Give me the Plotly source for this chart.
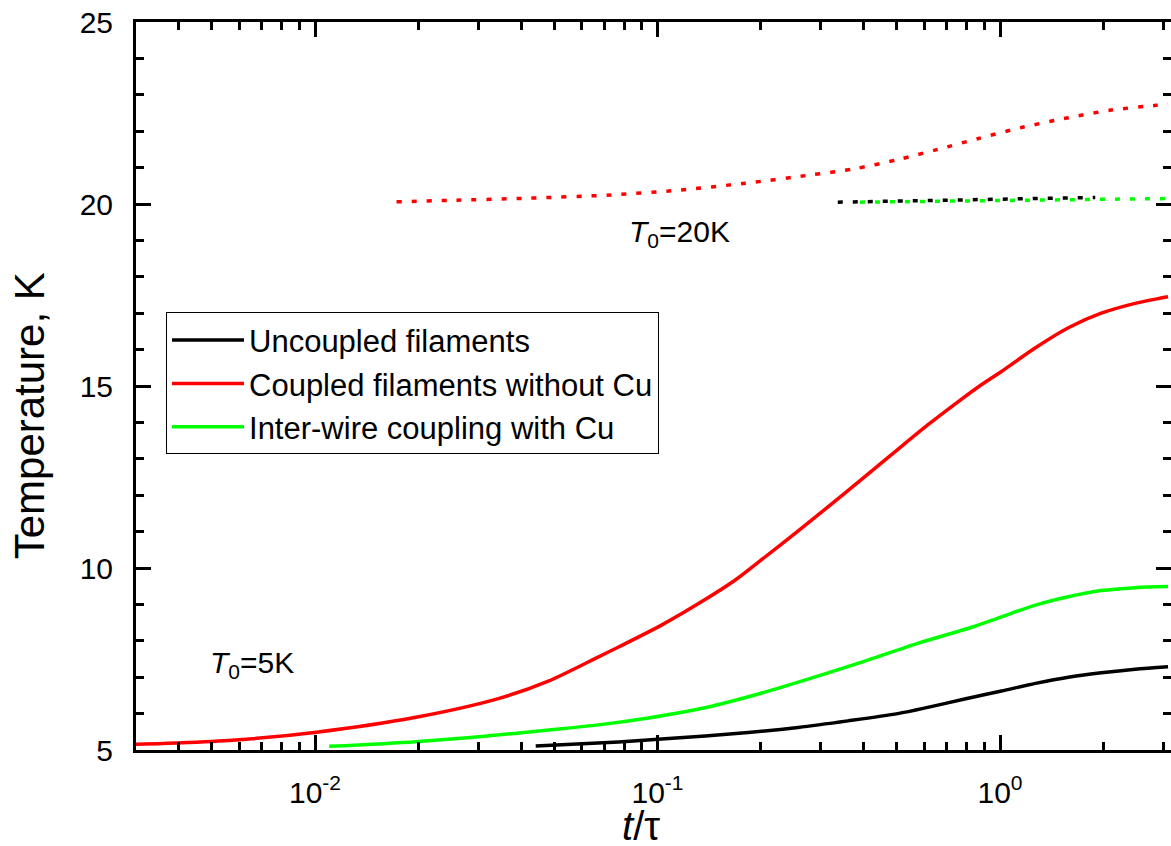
import plotly.graph_objects as go

# ---- data (t/tau, Temperature K) ----
red_x = [0.0030, 0.0036, 0.0056, 0.0101, 0.0197, 0.0345, 0.0482, 0.0673, 0.0770, 0.1027,
         0.1343, 0.1687, 0.2008, 0.2522, 0.3146, 0.3926, 0.4931, 0.6151, 0.7674, 0.8659,
         1.010, 1.269, 1.583, 1.975, 2.480, 2.893, 3.094]
red_T = [5.16, 5.18, 5.26, 5.49, 5.90, 6.42, 6.90, 7.56, 7.83, 8.43,
         9.07, 9.67, 10.22, 10.95, 11.68, 12.42, 13.19, 13.93, 14.62, 14.98,
         15.40, 16.05, 16.60, 17.00, 17.27, 17.40, 17.45]

green_x = [0.0110, 0.0197, 0.0307, 0.0482, 0.0673, 0.0941, 0.1343, 0.2008, 0.3083, 0.4114,
           0.5752, 0.8317, 1.010, 1.269, 1.583, 1.975, 2.480, 3.094]
green_T = [5.10, 5.23, 5.37, 5.55, 5.69, 5.88, 6.14, 6.56, 7.09, 7.47,
           7.93, 8.38, 8.66, 8.98, 9.21, 9.38, 9.46, 9.49]

black_x = [0.0441, 0.0770, 0.1027, 0.1840, 0.2573, 0.3598, 0.5030, 0.6151, 0.7884, 1.010,
           1.269, 1.583, 1.975, 2.480, 3.094]
black_T = [5.11, 5.22, 5.30, 5.48, 5.62, 5.80, 6.00, 6.17, 6.40, 6.62,
           6.83, 7.00, 7.12, 7.22, 7.29]

red20_x = [0.0173, 0.0246, 0.0421, 0.0734, 0.1151, 0.1804, 0.2808, 0.3771, 0.5030, 0.6577,
           0.8659, 1.155, 1.583, 2.112, 2.855, 3.094]
red20_T = [20.06, 20.10, 20.16, 20.25, 20.38, 20.57, 20.80, 20.97, 21.22, 21.50,
           21.80, 22.10, 22.37, 22.58, 22.71, 22.74]

green20_x = [0.390, 0.704, 1.375, 3.094]
green20_T = [20.05, 20.08, 20.12, 20.15]

black20_x = [0.336, 0.704, 1.375, 1.897]
black20_T = [20.05, 20.10, 20.15, 20.18]

x_tickvals = [0.01, 0.1, 1]
x_ticktext = ["10<sup>-2</sup>", "10<sup>-1</sup>", "10<sup>0</sup>"]
x_minor = [3e-3, 4e-3, 5e-3, 6e-3, 7e-3, 8e-3, 9e-3,
           2e-2, 3e-2, 4e-2, 5e-2, 6e-2, 7e-2, 8e-2, 9e-2,
           0.2, 0.3, 0.4, 0.5, 0.6, 0.7, 0.8, 0.9, 2, 3]

FONT = "Arial, Liberation Sans, sans-serif"
LW = 3.5
DOT = "5px,10px"
SPL = dict(shape="spline", smoothing=0.8)

fig = go.Figure()
fig.add_trace(go.Scatter(x=black_x, y=black_T, mode="lines", name="Uncoupled filaments",
                         line=dict(color="black", width=LW, **SPL)))
fig.add_trace(go.Scatter(x=red_x, y=red_T, mode="lines", name="Coupled filaments without Cu",
                         line=dict(color="#FF0000", width=LW, **SPL)))
fig.add_trace(go.Scatter(x=green_x, y=green_T, mode="lines", name="Inter-wire coupling with Cu",
                         line=dict(color="#00FF00", width=LW, **SPL)))
fig.add_trace(go.Scatter(x=red20_x, y=red20_T, mode="lines", showlegend=False,
                         line=dict(color="#FF0000", width=LW, dash=DOT, **SPL)))
fig.add_trace(go.Scatter(x=black20_x, y=black20_T, mode="lines", showlegend=False,
                         line=dict(color="black", width=LW, dash=DOT)))
fig.add_trace(go.Scatter(x=green20_x, y=green20_T, mode="lines", showlegend=False,
                         line=dict(color="#00FF00", width=LW, dash=DOT)))

fig.update_layout(
    width=1174, height=846,
    margin=dict(l=136, r=0, t=22, b=96),
    paper_bgcolor="white", plot_bgcolor="white",
    font=dict(family=FONT, color="black", size=30),
    showlegend=True,
    legend=dict(x=0.029, y=0.601, xanchor="left", yanchor="top",
                bordercolor="black", borderwidth=1, bgcolor="white",
                font=dict(family=FONT, size=31, color="black"),
                itemwidth=72, tracegroupgap=0),
    annotations=[
        dict(xref="paper", yref="y", x=0.070, y=7.34, xanchor="left", yanchor="middle",
             text="<i>T</i><sub>0</sub>=5K", showarrow=False,
             font=dict(family=FONT, size=30, color="black")),
        dict(xref="paper", yref="y", x=0.474, y=19.2, xanchor="left", yanchor="middle",
             text="<i>T</i><sub>0</sub>=20K", showarrow=False,
             font=dict(family=FONT, size=30, color="black")),
        # axis titles
        dict(xref="paper", yref="paper", x=-0.1021, y=0.4588, xanchor="center", yanchor="middle",
             text="Temperature, K", textangle=-90, showarrow=False,
             font=dict(family=FONT, size=42, color="black")),
        dict(xref="paper", yref="paper", x=0.4875, y=-0.104, xanchor="center", yanchor="middle",
             text="<i>t</i>/τ", showarrow=False,
             font=dict(family=FONT, size=40, color="black")),
    ],
)

fig.update_xaxes(
    type="log", range=[-2.5226, 0.4992],
    showgrid=False, zeroline=False,
    showline=True, linecolor="black", linewidth=3, mirror="allticks",
    ticks="inside", ticklen=15, tickwidth=3, tickcolor="black",
    tickmode="array", tickvals=x_tickvals, ticktext=x_ticktext,
    tickfont=dict(family=FONT, size=30), ticklabelstandoff=14, ticklabeloverflow="allow",
    minor=dict(tickmode="array", tickvals=x_minor, ticks="inside", ticklen=8,
               tickwidth=3, tickcolor="black", showgrid=False),
)
fig.update_yaxes(
    range=[5, 25], dtick=5, tick0=5,
    showgrid=False, zeroline=False,
    showline=True, linecolor="black", linewidth=3, mirror="allticks",
    ticks="inside", ticklen=15, tickwidth=3, tickcolor="black",
    tickfont=dict(family=FONT, size=30), ticklabelstandoff=14, ticklabeloverflow="allow",
    minor=dict(dtick=1, ticks="inside", ticklen=8, tickwidth=3, tickcolor="black",
               showgrid=False),
)

fig.write_html(
    "out.html",
    config={"displayModeBar": False},
    post_script="document.body.style.margin='0px';document.body.style.overflow='hidden';"
                "document.documentElement.style.overflow='hidden';",
)
